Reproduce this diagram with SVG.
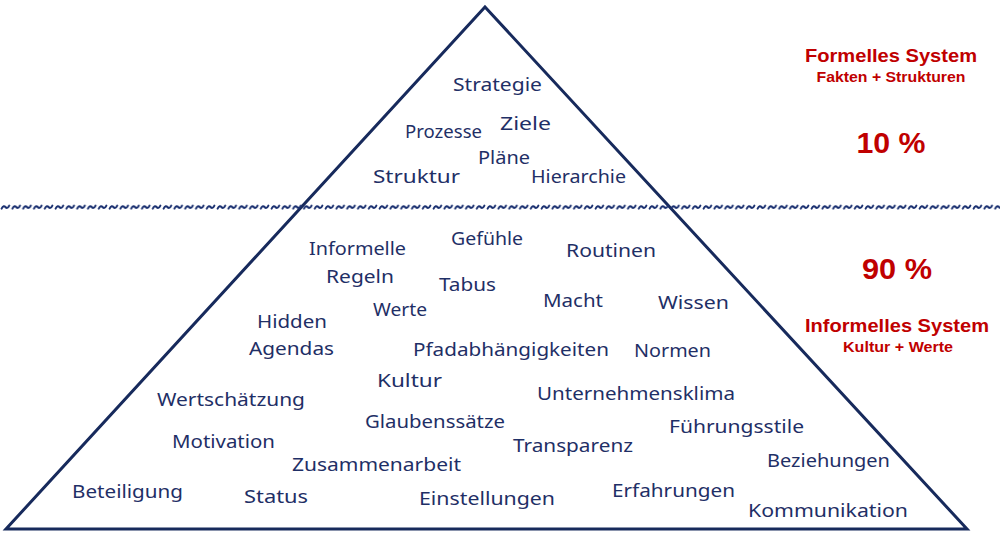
<svg xmlns="http://www.w3.org/2000/svg" width="1000" height="540" viewBox="0 0 1000 540">
  <style>
    .w { font-family: "Segoe Print", "Comic Sans MS", "Noto Sans", "DejaVu Sans", sans-serif; font-size: 18px; fill: #1f2f66; }
    .r { font-family: "Liberation Sans", Arial, sans-serif; font-weight: bold; fill: #c00000; text-anchor: middle; }
    .tri { fill: none; stroke: #172a5c; stroke-width: 3; stroke-linejoin: miter; }
  </style>
  <defs>
    <pattern id="wave" x="0" y="202" width="10.8" height="10" patternUnits="userSpaceOnUse">
      <path d="M1.6,6.6 C3,3.6 4.4,3.8 5.4,5 S7.8,6.6 9.2,3.6" fill="none" stroke="#1a3070" stroke-width="2" stroke-linecap="round"/>
    </pattern>
  </defs>
  <rect width="1000" height="540" fill="#ffffff"/>

  <g id="pyramid">
    <polygon class="tri" points="485,7 967,529 6,529"/>
  </g>
  <g id="waterline">
    <rect x="0" y="202" width="1000" height="10" fill="url(#wave)"/>
  </g>

  <g id="formal-terms">
    <g id="n-strategie"><text class="w" x="453" y="91" textLength="89" lengthAdjust="spacingAndGlyphs">Strategie</text></g>
    <g id="n-ziele"><text class="w" x="500" y="130" textLength="51" lengthAdjust="spacingAndGlyphs">Ziele</text></g>
    <g id="n-prozesse"><text class="w" x="405" y="138" textLength="77" lengthAdjust="spacingAndGlyphs">Prozesse</text></g>
    <g id="n-plaene"><text class="w" x="478" y="164" textLength="52" lengthAdjust="spacingAndGlyphs">Pläne</text></g>
    <g id="n-struktur"><text class="w" x="373" y="183" textLength="87" lengthAdjust="spacingAndGlyphs">Struktur</text></g>
    <g id="n-hierarchie"><text class="w" x="531" y="183" textLength="95" lengthAdjust="spacingAndGlyphs">Hierarchie</text></g>
  </g>

  <g id="informal-terms">
    <g id="n-informelle"><text class="w" x="309" y="255" textLength="97" lengthAdjust="spacingAndGlyphs">Informelle</text></g>
    <g id="n-gefuehle"><text class="w" x="451" y="245" textLength="72" lengthAdjust="spacingAndGlyphs">Gefühle</text></g>
    <g id="n-routinen"><text class="w" x="566" y="257" textLength="90" lengthAdjust="spacingAndGlyphs">Routinen</text></g>
    <g id="n-regeln"><text class="w" x="326" y="283" textLength="68" lengthAdjust="spacingAndGlyphs">Regeln</text></g>
    <g id="n-tabus"><text class="w" x="439" y="291" textLength="57" lengthAdjust="spacingAndGlyphs">Tabus</text></g>
    <g id="n-macht"><text class="w" x="543" y="307" textLength="60" lengthAdjust="spacingAndGlyphs">Macht</text></g>
    <g id="n-wissen"><text class="w" x="658" y="309" textLength="71" lengthAdjust="spacingAndGlyphs">Wissen</text></g>
    <g id="n-werte"><text class="w" x="373" y="316" textLength="54" lengthAdjust="spacingAndGlyphs">Werte</text></g>
    <g id="n-hidden"><text class="w" x="257" y="328" textLength="70" lengthAdjust="spacingAndGlyphs">Hidden</text></g>
    <g id="n-agendas"><text class="w" x="249" y="355" textLength="85" lengthAdjust="spacingAndGlyphs">Agendas</text></g>
    <g id="n-pfad"><text class="w" x="413" y="356" textLength="196" lengthAdjust="spacingAndGlyphs">Pfadabhängigkeiten</text></g>
    <g id="n-normen"><text class="w" x="634" y="357" textLength="77" lengthAdjust="spacingAndGlyphs">Normen</text></g>
    <g id="n-kultur"><text class="w" x="377" y="387" textLength="65" lengthAdjust="spacingAndGlyphs">Kultur</text></g>
    <g id="n-uklima"><text class="w" x="537" y="400" textLength="198" lengthAdjust="spacingAndGlyphs">Unternehmensklima</text></g>
    <g id="n-wertschaetzung"><text class="w" x="157" y="406" textLength="148" lengthAdjust="spacingAndGlyphs">Wertschätzung</text></g>
    <g id="n-glaubenssaetze"><text class="w" x="365" y="428" textLength="140" lengthAdjust="spacingAndGlyphs">Glaubenssätze</text></g>
    <g id="n-fuehrungsstile"><text class="w" x="669" y="433" textLength="135" lengthAdjust="spacingAndGlyphs">Führungsstile</text></g>
    <g id="n-motivation"><text class="w" x="172" y="448" textLength="103" lengthAdjust="spacingAndGlyphs">Motivation</text></g>
    <g id="n-transparenz"><text class="w" x="513" y="452" textLength="120" lengthAdjust="spacingAndGlyphs">Transparenz</text></g>
    <g id="n-beziehungen"><text class="w" x="767" y="467" textLength="123" lengthAdjust="spacingAndGlyphs">Beziehungen</text></g>
    <g id="n-zusammenarbeit"><text class="w" x="292" y="471" textLength="169" lengthAdjust="spacingAndGlyphs">Zusammenarbeit</text></g>
    <g id="n-erfahrungen"><text class="w" x="612" y="497" textLength="123" lengthAdjust="spacingAndGlyphs">Erfahrungen</text></g>
    <g id="n-beteiligung"><text class="w" x="72" y="498" textLength="111" lengthAdjust="spacingAndGlyphs">Beteiligung</text></g>
    <g id="n-status"><text class="w" x="244" y="503" textLength="64" lengthAdjust="spacingAndGlyphs">Status</text></g>
    <g id="n-einstellungen"><text class="w" x="419" y="505" textLength="136" lengthAdjust="spacingAndGlyphs">Einstellungen</text></g>
    <g id="n-kommunikation"><text class="w" x="748" y="517" textLength="160" lengthAdjust="spacingAndGlyphs">Kommunikation</text></g>
  </g>

  <g id="legend-formal">
    <text class="r" x="891" y="62" font-size="18" textLength="172" lengthAdjust="spacingAndGlyphs">Formelles System</text>
    <text class="r" x="891" y="82" font-size="14" textLength="149" lengthAdjust="spacingAndGlyphs">Fakten + Strukturen</text>
    <text class="r" x="891" y="153" font-size="30" textLength="69" lengthAdjust="spacingAndGlyphs">10 %</text>
  </g>
  <g id="legend-informal">
    <text class="r" x="897" y="279" font-size="30" textLength="70" lengthAdjust="spacingAndGlyphs">90 %</text>
    <text class="r" x="897" y="332" font-size="18" textLength="184" lengthAdjust="spacingAndGlyphs">Informelles System</text>
    <text class="r" x="898" y="352" font-size="14" textLength="110" lengthAdjust="spacingAndGlyphs">Kultur + Werte</text>
  </g>
</svg>
